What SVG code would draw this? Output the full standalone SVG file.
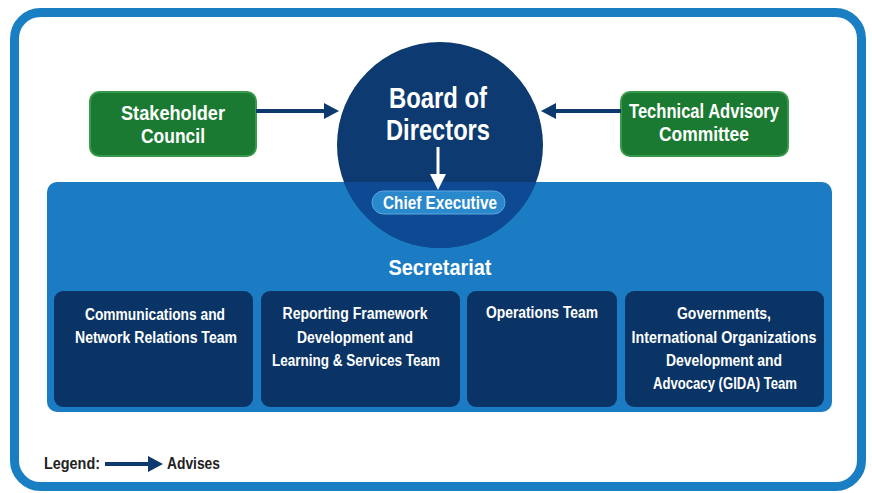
<svg xmlns="http://www.w3.org/2000/svg" width="872" height="493" viewBox="0 0 872 493">
<defs>
<style>
text{font-family:"Liberation Sans Narrow","Liberation Sans",Arial,sans-serif;font-weight:bold;fill:#ffffff;text-anchor:middle}
.green{fill:#1b7a32;stroke:#3a9a4c;stroke-width:2}
.team{fill:#0b3466}
.t14{font-size:16px}
.legend{fill:#222222;font-size:16px;text-anchor:start}
.conn{stroke:#0d3a6e;stroke-width:4;fill:none}
</style>
<clipPath id="secClip"><rect x="47" y="182" width="785" height="230" rx="10"/></clipPath>
</defs>
<rect x="0" y="0" width="872" height="493" fill="#ffffff"/>
<rect id="frame" x="14.5" y="12.5" width="847" height="474" rx="26" fill="#ffffff" stroke="#1a7ec2" stroke-width="9"/>

<g id="secretariat">
<rect x="47" y="182" width="785" height="230" rx="10" fill="#1b7cc3"/>
<text x="440" y="275" style="font-size:22px" textLength="103" lengthAdjust="spacingAndGlyphs">Secretariat</text>
</g>

<g id="board">
<circle cx="440" cy="145" r="103" fill="#0d3a70"/>
<circle cx="440" cy="145" r="103" fill="#0e4a94" clip-path="url(#secClip)"/>
<text x="438" y="108" style="font-size:30px" textLength="98" lengthAdjust="spacingAndGlyphs">Board of</text>
<text x="438" y="140" style="font-size:30px" textLength="104" lengthAdjust="spacingAndGlyphs">Directors</text>
</g>

<g id="chief">
<rect x="372" y="191" width="133" height="23" rx="11.5" fill="#2a88cc" stroke="#5aa8dc" stroke-width="1"/>
<text x="440" y="209" style="font-size:18px" textLength="114" lengthAdjust="spacingAndGlyphs">Chief Executive</text>
</g>

<g id="stakeholder">
<rect class="green" x="90" y="92" width="166" height="64" rx="9"/>
<text x="173" y="120" style="font-size:20px" textLength="104" lengthAdjust="spacingAndGlyphs">Stakeholder</text>
<text x="173" y="143" style="font-size:20px" textLength="64" lengthAdjust="spacingAndGlyphs">Council</text>
</g>

<g id="technical">
<rect class="green" x="621" y="92" width="167" height="64" rx="9"/>
<text x="704" y="118" style="font-size:20px" textLength="150" lengthAdjust="spacingAndGlyphs">Technical Advisory</text>
<text x="704" y="141" style="font-size:20px" textLength="90" lengthAdjust="spacingAndGlyphs">Committee</text>
</g>

<g id="team1">
<rect class="team" x="54" y="291" width="199" height="116" rx="9"/>
<text class="t14" x="155" y="320" textLength="140" lengthAdjust="spacingAndGlyphs">Communications and</text>
<text class="t14" x="156" y="343" textLength="162" lengthAdjust="spacingAndGlyphs">Network Relations Team</text>
</g>

<g id="team2">
<rect class="team" x="261" y="291" width="199" height="116" rx="9"/>
<text class="t14" x="355" y="319" textLength="145" lengthAdjust="spacingAndGlyphs">Reporting Framework</text>
<text class="t14" x="355" y="343" textLength="116" lengthAdjust="spacingAndGlyphs">Development and</text>
<text class="t14" x="356" y="366" textLength="168" lengthAdjust="spacingAndGlyphs">Learning &amp; Services Team</text>
</g>

<g id="team3">
<rect class="team" x="467" y="291" width="150" height="116" rx="9"/>
<text class="t14" x="542" y="318" textLength="112" lengthAdjust="spacingAndGlyphs">Operations Team</text>
</g>

<g id="team4">
<rect class="team" x="625" y="291" width="199" height="116" rx="9"/>
<text class="t14" x="724" y="319" textLength="94" lengthAdjust="spacingAndGlyphs">Governments,</text>
<text class="t14" x="724" y="343" textLength="185" lengthAdjust="spacingAndGlyphs">International Organizations</text>
<text class="t14" x="724" y="366" textLength="116" lengthAdjust="spacingAndGlyphs">Development and</text>
<text class="t14" x="725" y="389" textLength="144" lengthAdjust="spacingAndGlyphs">Advocacy (GIDA) Team</text>
</g>

<g id="connectors">
<line class="conn" x1="256" y1="111" x2="326" y2="111"/>
<polygon points="339,111 324,103 324,119" fill="#0d3a6e"/>
<line class="conn" x1="621" y1="111" x2="554" y2="111"/>
<polygon points="541,111 556,103 556,119" fill="#0d3a6e"/>
<line x1="438" y1="147" x2="438" y2="176" stroke="#ffffff" stroke-width="3"/>
<polygon points="438,190 430,174 446,174" fill="#ffffff"/>
</g>

<g id="legend">
<text class="legend" x="44" y="469" textLength="56" lengthAdjust="spacingAndGlyphs">Legend:</text>
<line x1="105" y1="464" x2="150" y2="464" stroke="#0d3a6e" stroke-width="4"/>
<polygon points="163,464 148,456 148,472" fill="#0d3a6e"/>
<text class="legend" x="167" y="469" textLength="53" lengthAdjust="spacingAndGlyphs">Advises</text>
</g>
</svg>
